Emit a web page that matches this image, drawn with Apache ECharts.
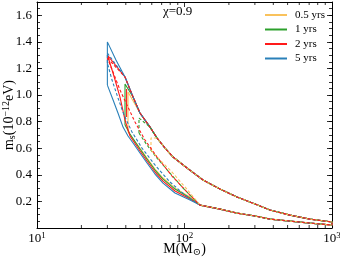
<!DOCTYPE html>
<html><head><meta charset="utf-8">
<script src="https://cdn.jsdelivr.net/npm/echarts@6/dist/echarts.min.js"></script>
<style>html,body{margin:0;padding:0;background:#fff}#c{width:340px;height:260px}</style>
</head><body><div id="c"></div><script>
// ---- data ----
const seriesNames = ['0.5 yrs', '1 yrs', '2 yrs', '5 yrs'];
const xMajorTicks = [10, 100, 1000];
const xMinorTicks = [20, 30, 40, 50, 60, 70, 80, 90, 200, 300, 400, 500, 600, 700, 800, 900];
const yTickLabels = [0.2, 0.4, 0.6, 0.8, 1.0, 1.2, 1.4, 1.6];

// common upper boundary and common lower tail
const upperCurve = [[30,1.40],[34.3,1.264],[39.5,1.136],[44.8,0.985],[49.9,0.865],[58.4,0.759],[65.1,0.677],[73.8,0.601],[83.6,0.534],[104,0.451],[133.5,0.361],[174,0.293],[227,0.233],[301,0.180],[380,0.135],[519,0.097],[709,0.067],[1000,0.045]];
const lowerTail = [[127.4,0.172],[174,0.142],[227,0.112],[301,0.090],[380,0.067],[519,0.052],[709,0.037],[1000,0.022]];

// solid contours
const blueSolidEdge = [[30,1.075],[30,1.40]];
const blueSolidLower = [[30,1.075],[32.8,0.963],[35.4,0.865],[38.3,0.759],[41.4,0.692],[44.8,0.639],[49.9,0.564],[55.7,0.489],[63.1,0.406],[71.5,0.338],[86.2,0.263],[109,0.210],[127.4,0.172]];
const redSolidEdge = [[30,1.301]];
const redSolidLower = [[30,1.301],[32.76,1.166],[36.54,0.985],[39.51,0.812],[42.72,0.692],[49.92,0.579],[55.68,0.504],[63.10,0.421],[71.50,0.353],[86.21,0.278],[109.0,0.218],[127.4,0.172]];
const redSolidNotch = [[40.5,1.045],[40.5,0.835]];
const greenSolidEdge = [[39.51,0.774],[39.51,1.083]];
const greenSolidLower = [[39.51,0.774],[42.72,0.707],[49.92,0.594],[55.68,0.519],[63.10,0.436],[71.50,0.368],[86.21,0.293],[109.0,0.225],[127.4,0.172]];
const yellowSolidEdge = [[41.40,0.722],[41.40,1.023]];
const yellowSolidLower = [[41.40,0.722],[44.76,0.669],[49.92,0.601],[55.68,0.526],[63.10,0.443],[71.50,0.376],[86.21,0.300],[109.0,0.233],[127.4,0.172]];

// dashed contours
const blueDashedEdge = [[30,1.241],[30,1.316]];
const blueDashedLower = [[30,1.241],[32.25,1.113],[35.42,0.978],[38.89,0.850],[44.07,0.722],[51.50,0.601],[63.10,0.474],[79.73,0.346],[100.8,0.248],[127.4,0.172]];
const redDashedEdge = [[30,1.279]];
const redDashedLower = [[30,1.279],[32.76,1.173],[36.54,1.038],[40.76,0.925],[46.17,0.797],[53.97,0.662],[65.11,0.534],[82.26,0.391],[104.0,0.270],[127.4,0.172]];
const greenDashedEdge = [[49.14,0.714],[49.14,0.827]];
const greenDashedLower = [[49.14,0.714],[55.68,0.624],[65.11,0.526],[79.73,0.413],[100.8,0.285],[127.4,0.172]];
const yellowDashedEdge = [[59.27,0.586],[59.27,0.677]];
const yellowDashedLower = [[59.27,0.586],[68.23,0.511],[82.26,0.421],[102.4,0.300],[127.4,0.172]];

// ---- build ----
const COLORS = {'0.5 yrs':'#f9c25c','1 yrs':'#2ca02c','2 yrs':'#ff1a1a','5 yrs':'#2a80b9'};
const SERIF = '"Liberation Serif","DejaVu Serif",serif';

function contour(edge, joinM, lower) {
  const top = upperCurve.filter(p => p[0] >= joinM);
  return [...edge, ...top, ...lowerTail.slice().reverse(), ...lower.slice().reverse()];
}
function line(name, data, dashed) {
  return {
    type: 'line', name: name, data: data, showSymbol: false, symbol: 'none',
    xAxisIndex: 0, yAxisIndex: 0, animation: false, silent: true, clip: true,
    lineStyle: {color: COLORS[name], width: 1.1, type: dashed ? [3, 2] : 'solid'},
    itemStyle: {color: COLORS[name]}
  };
}

const series = [
  line('0.5 yrs', contour(yellowSolidEdge, 49.9, yellowSolidLower), false),
  line('1 yrs', contour(greenSolidEdge, 44.8, greenSolidLower), false),
  line('2 yrs', contour(redSolidEdge, 39.5, redSolidLower), false),
  line('2 yrs', redSolidNotch, false),
  line('5 yrs', contour(blueSolidEdge, 30, blueSolidLower), false),
  line('5 yrs', contour(blueDashedEdge, 39.5, blueDashedLower), true),
  line('1 yrs', contour(greenDashedEdge, 58.4, greenDashedLower), true),
  line('0.5 yrs', contour(yellowDashedEdge, 65.1, yellowDashedLower), true),
  line('2 yrs', contour(redDashedEdge, 39.5, redDashedLower), true),
  {
    type: 'custom', name: 'minor', xAxisIndex: 0, yAxisIndex: 0, silent: true, animation: false, clip: false,
    data: xMinorTicks.map(v => [v, 1]),
    encode: {x: 0, y: 1},
    renderItem: function (params, api) {
      const x = api.coord([api.value(0), 1])[0];
      const cs = params.coordSys;
      const st = {stroke: '#000', lineWidth: 0.8};
      return {type: 'group', children: [
        {type: 'line', shape: {x1: x, y1: cs.y + cs.height, x2: x, y2: cs.y + cs.height - 3}, style: st},
        {type: 'line', shape: {x1: x, y1: cs.y, x2: x, y2: cs.y + 3}, style: st}
      ]};
    }
  }
];

const axisLineStyle = {show: true, onZero: false, lineStyle: {color: '#000', width: 1}};
const majorTickY = {show: true, inside: true, length: 5, lineStyle: {color: '#000', width: 0.8}};
const minorTickY = {show: true, inside: true, length: 3, lineStyle: {color: '#000', width: 0.8}};

const option = {
  backgroundColor: '#fff',
  animation: false,
  grid: {left: 37, right: 8, top: 2, bottom: 32, containLabel: false, outerBoundsMode: 'none'},
  legend: {
    data: seriesNames, orient: 'vertical', left: 265, top: 9, padding: 0,
    icon: 'rect', itemWidth: 22, itemHeight: 2, itemGap: 2.5,
    textStyle: {fontFamily: SERIF, fontSize: 11, color: '#000', lineHeight: 12, padding: [0, 0, 0, 3]},
    selectedMode: false
  },
  graphic: [{
    type: 'text', left: 163, top: 5,
    style: {text: 'χ=0.9', font: '13px ' + SERIF, fill: '#000'}
  }],
  xAxis: [{
    type: 'log', logBase: 10, min: 10, max: 1000, position: 'bottom',
    axisLine: axisLineStyle,
    axisTick: {show: true, inside: true, length: 5, lineStyle: {color: '#000', width: 0.8}},
    splitLine: {show: false},
    axisLabel: {
      margin: 3, color: '#000', fontFamily: SERIF, fontSize: 13,
      formatter: v => xMajorTicks.includes(Math.round(v)) ? '10{sup|' + Math.round(Math.log10(v)) + '}' : '',
      rich: {sup: {fontSize: 9, fontFamily: SERIF, color: '#000', padding: [0, 0, 7, 0]}}
    },
    name: 'M(M{sub|⊙})', nameLocation: 'middle', nameGap: 14, nameMoveOverlap: false,
    nameTextStyle: {color: '#000', fontFamily: SERIF, fontSize: 14, verticalAlign: 'top',
      rich: {sub: {fontSize: 10, fontFamily: SERIF, color: '#000', padding: [5, 0, 0, 0]}}}
  }, {
    type: 'log', logBase: 10, min: 10, max: 1000, position: 'top',
    axisLine: axisLineStyle,
    axisTick: {show: true, inside: true, length: 5, lineStyle: {color: '#000', width: 0.8}},
    axisLabel: {show: false}, splitLine: {show: false}
  }],
  yAxis: [{
    type: 'value', min: 0, max: 1.7, interval: 0.2, position: 'left',
    axisLine: axisLineStyle, axisTick: majorTickY, splitLine: {show: false},
    axisLabel: {
      margin: 5, color: '#000', fontFamily: SERIF, fontSize: 13,
      showMinLabel: false, showMaxLabel: false,
      formatter: v => yTickLabels.some(t => Math.abs(t - v) < 1e-6) ? v.toFixed(1) : ''
    },
    name: 'm{sub|s}(10{sup|−12}eV)', nameLocation: 'middle', nameRotate: 90, nameGap: 19, nameMoveOverlap: false,
    nameTextStyle: {color: '#000', fontFamily: SERIF, fontSize: 14,
      rich: {
        sub: {fontSize: 10, fontFamily: SERIF, color: '#000', padding: [5, 0, 0, 0]},
        sup: {fontSize: 10, fontFamily: SERIF, color: '#000', padding: [0, 0, 7, 0]}
      }}
  }, {
    type: 'value', min: 0, max: 1.7, interval: 0.05, position: 'left',
    axisLine: {show: false}, axisTick: minorTickY, axisLabel: {show: false}, splitLine: {show: false}
  }, {
    type: 'value', min: 0, max: 1.7, interval: 0.2, position: 'right',
    axisLine: axisLineStyle, axisTick: majorTickY, axisLabel: {show: false}, splitLine: {show: false}
  }, {
    type: 'value', min: 0, max: 1.7, interval: 0.05, position: 'right',
    axisLine: {show: false}, axisTick: minorTickY, axisLabel: {show: false}, splitLine: {show: false}
  }],
  series: series
};

const chart = echarts.init(document.getElementById('c'), null, {renderer: 'canvas'});
chart.setOption(option);
</script></body></html>
